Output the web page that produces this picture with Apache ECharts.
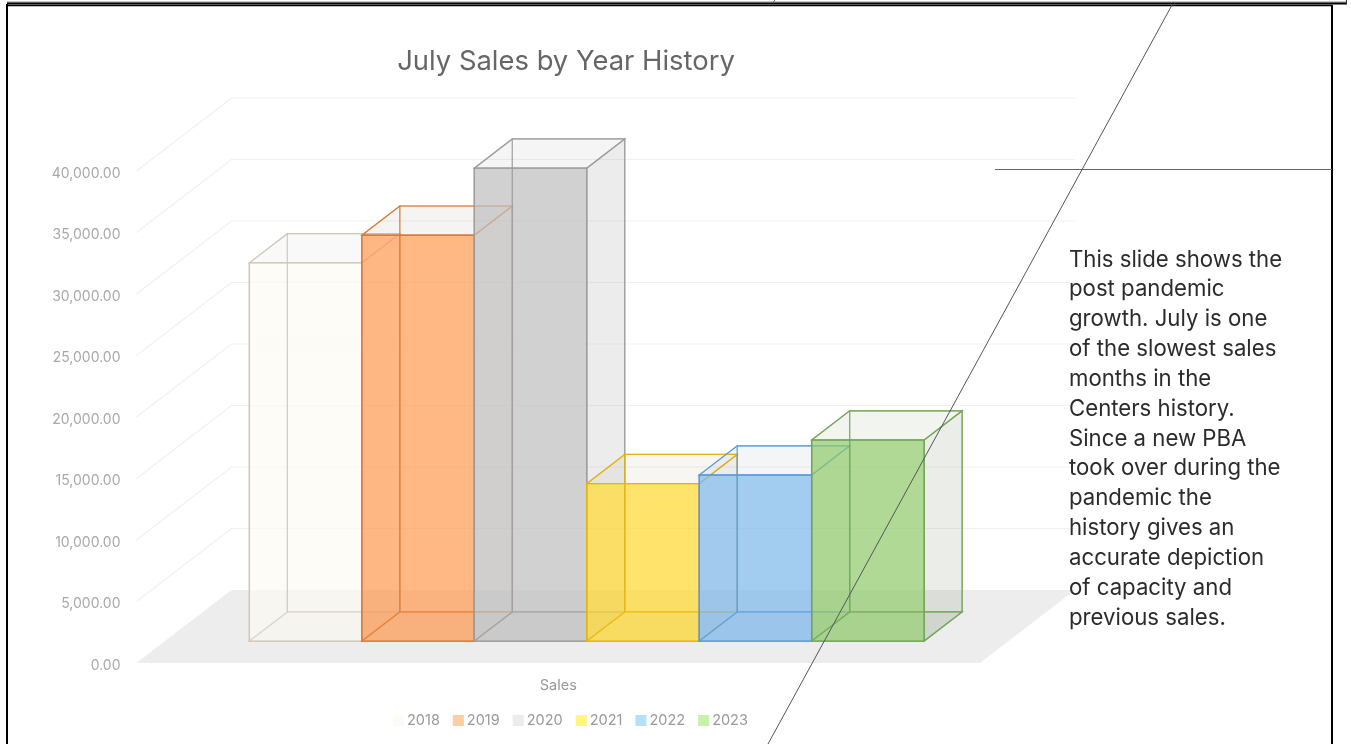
<!DOCTYPE html>
<html>
<head>
<meta charset="utf-8">
<style>html,body{margin:0;padding:0;background:#fff}#c{width:1351px;height:744px}</style>
<script src="https://cdn.jsdelivr.net/npm/echarts@6/dist/echarts.min.js"></script>
</head>
<body>
<div id="c"></div>
<script>
const category = ['Sales'];
const years = ['2018','2019','2020','2021','2022','2023'];
const sales = [30750, 33000, 38450, 12800, 13500, 16350];
const yTicks = [0,5000,10000,15000,20000,25000,30000,35000,40000];
const frontFills = ['rgba(253,250,243,0.65)','rgba(255,155,85,0.72)','rgba(191,191,191,0.72)','rgba(255,216,49,0.72)','rgba(127,184,236,0.72)','rgba(145,202,108,0.72)'];
const sideFills = ['rgba(130,125,100,0.05)','rgba(140,110,80,0.06)','rgba(120,120,120,0.15)','rgba(140,120,60,0.07)','rgba(90,120,150,0.07)','rgba(100,120,80,0.14)'];
const topFills = ['rgba(120,130,130,0.05)','rgba(140,110,80,0.08)','rgba(120,120,120,0.08)','rgba(140,120,60,0.07)','rgba(90,120,150,0.08)','rgba(100,130,80,0.09)'];
const strokes = ['#cfc8b8','#d97a3c','#9c9c9c','#e2b417','#5b9bd5','#73a457'];
const legendColors = ['#fefbf5','#ffcda3','#ececec','#fff57f','#b3e1fb','#c8f2a9'];
const noteLines = ['This slide shows the','post pandemic','growth. July is one','of the slowest sales','months in the','Centers history.','Since a new PBA','took over during the','pandemic the','history gives an','accurate depiction','of capacity and','previous sales.'];

const DEPTH_X = 95, DEPTH_Y = 73;
const BAR_NEAR = 0.3, BAR_FAR = 0.7;
const GROUP_START = 0.1, GROUP_SPAN = 0.8;

const fmt = v => v.toLocaleString('en-US', {minimumFractionDigits: 2, maximumFractionDigits: 2});

function project(p, d) { return [p[0] + d * DEPTH_X, p[1] - d * DEPTH_Y]; }

function renderWalls(params, api) {
  const v = api.value(1);
  const band = api.size([1, 0])[0];
  const c = api.coord([0, v]);
  const L = c[0] - band / 2, R = c[0] + band / 2, y = c[1];
  const a = [L, y], b = project(a, 1), e = project([R, y], 1);
  if (v === 0) {
    return {type: 'polygon', shape: {points: [a, [R, y], e, b]}, style: {fill: '#ededed'}, silent: true};
  }
  return {type: 'polyline', shape: {points: [a, b, e]}, style: {stroke: '#f1f1f1', lineWidth: 1.2, fill: null}, silent: true};
}

function barRenderer(i) {
  return function (params, api) {
    const band = api.size([1, 0])[0];
    const zero = api.coord([0, 0]);
    const top = api.coord([0, api.value(1)]);
    const left = zero[0] - band / 2 + band * (GROUP_START + GROUP_SPAN * i / years.length);
    const w = band * GROUP_SPAN / years.length;
    const yb = zero[1], yt = top[1];
    const x0 = left, x1 = left + w;
    const f = (x, y) => project([x, y], BAR_NEAR), k = (x, y) => project([x, y], BAR_FAR);
    const face = (pts, fill, opacity, lw) => ({
      type: 'polygon', shape: {points: pts}, silent: true,
      style: {fill: fill, stroke: strokes[i], lineWidth: lw || 1.2, opacity: opacity || 1}
    });
    const none = 'rgba(0,0,0,0)';
    return {type: 'group', children: [
      face([f(x0,yb),f(x1,yb),k(x1,yb),k(x0,yb)], topFills[i], 0.9),
      face([f(x1,yb),k(x1,yb),k(x1,yt),f(x1,yt)], sideFills[i], 0.95),
      face([f(x0,yt),f(x1,yt),k(x1,yt),k(x0,yt)], topFills[i], 0.95),
      face([f(x0,yb),f(x1,yb),f(x1,yt),f(x0,yt)], frontFills[i], 1, 1.4),
      face([k(x0,yb),k(x1,yb),k(x1,yt),k(x0,yt)], none, 0.65),
      face([f(x0,yb),k(x0,yb),k(x0,yt),f(x0,yt)], none, 0.65)
    ]};
  };
}

const series = [{
  type: 'custom', name: 'walls', renderItem: renderWalls, silent: true, z: 1,
  encode: {x: 0, y: 1},
  data: yTicks.map(t => [0, t])
}].concat(years.map((y, i) => ({
  type: 'custom', name: y, renderItem: barRenderer(i), z: 2 + i,
  itemStyle: {color: legendColors[i]},
  encode: {x: 0, y: 1},
  data: [[0, sales[i]]]
})));

const frameLine = (x1, y1, x2, y2, stroke, lw) => ({
  type: 'line', z: 100, silent: true,
  shape: {x1, y1, x2, y2}, style: {stroke, lineWidth: lw}
});

const chart = echarts.init(document.getElementById('c'), null, {renderer: 'canvas'});
chart.setOption({
  animation: false,
  backgroundColor: '#fff',
  title: {
    text: 'July Sales by Year History', left: 561, top: 43, textAlign: 'center',
    textStyle: {fontFamily: 'Inter', fontSize: 27.4, fontWeight: 400, color: '#666'}
  },
  grid: {left: 136.5, right: 371, top: 171, bottom: 81, containLabel: false},
  xAxis: {
    type: 'category', data: category,
    axisLine: {show: false}, axisTick: {show: false}, splitLine: {show: false},
    axisLabel: {margin: 15, color: '#999', fontSize: 14.5, fontFamily: 'Inter'}
  },
  yAxis: {
    type: 'value', min: 0, max: 40000, interval: 5000,
    axisLine: {show: false}, axisTick: {show: false}, splitLine: {show: false},
    axisLabel: {margin: 16, color: '#a8a8a8', fontSize: 14, fontFamily: 'Inter', formatter: fmt, verticalAlign: 'top', lineHeight: 5}
  },
  legend: {
    data: years, left: 388, top: 708, icon: 'rect', itemWidth: 11, itemHeight: 11, itemGap: 13,
    selectedMode: false,
    textStyle: {color: '#999', fontSize: 14.5, fontFamily: 'Inter', padding: [0, 0, 0, -2]}
  },
  series: series,
  graphic: {elements: [
    frameLine(7, 2, 1347, 2, '#8a8a8a', 1),
    frameLine(7, 3.5, 1347, 3.5, '#000', 2),
    frameLine(7, 5.5, 1333, 5.5, '#000', 1.5),
    frameLine(1346.5, 0, 1346.5, 4, '#333', 1),
    frameLine(7, 4, 7, 744, '#000', 2),
    frameLine(1332, 5, 1332, 744, '#000', 2),
    frameLine(995, 169.5, 1332, 169.5, '#666', 1.2),
    frameLine(1172, 5, 768, 744, '#555', 1),
    frameLine(775, 0, 772.5, 3, '#666', 1),
    {
      type: 'text', left: 1069, top: 245, z: 50, silent: true,
      style: {
        text: noteLines.join('\n'), fontFamily: 'Inter', fontSize: 22.2, lineHeight: 29.83,
        fill: '#2b2b2b', align: 'left'
      }
    }
  ]}
});
</script>
</body>
</html>
